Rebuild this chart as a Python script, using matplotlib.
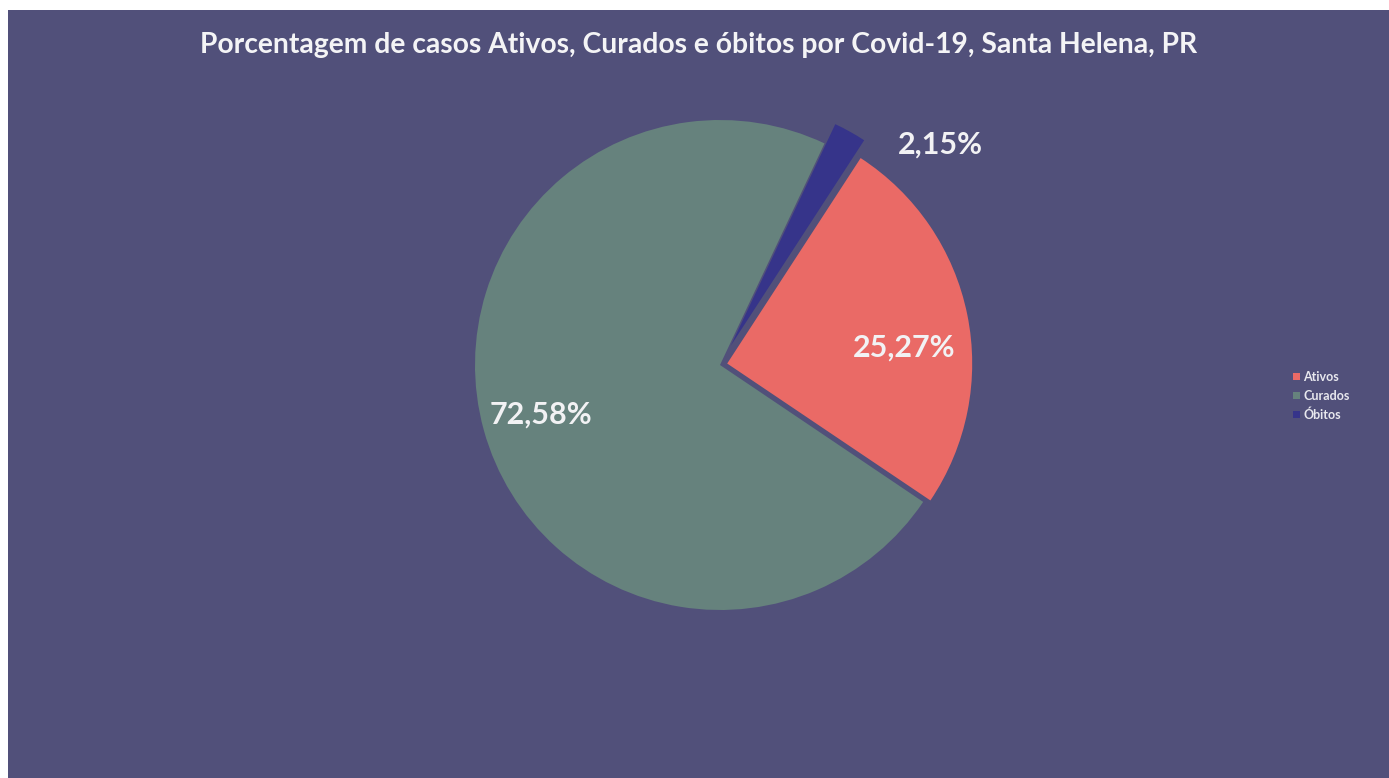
import matplotlib
matplotlib.use("Agg")
import matplotlib.pyplot as plt
from matplotlib.patches import Rectangle

# Data (percentages shown on the chart)
categories = ["Ativos", "Curados", "Óbitos"]
values = [25.27, 72.58, 2.15]
colors = ["#ea6a66", "#66827d", "#36348a"]
title = "Porcentagem de casos Ativos, Curados e óbitos por Covid-19, Santa Helena, PR"

bg = "#51507a"
W, H = 1389, 778

fig = plt.figure(figsize=(W / 100, H / 100), dpi=100, facecolor="white")
# scanned page: thin white margin on top and left
fig.patches.append(Rectangle((8 / W, 0), 1, 1 - 10 / H, transform=fig.transFigure,
                             facecolor=bg, edgecolor="none", zorder=-10))

plt.rcParams["font.family"] = ["Lato", "DejaVu Sans"]

# pie axes centred at about (720, 365) px, radius ~245 px
cx, cy, r = 720, 365, 245
ax = fig.add_axes([(cx - r) / W, (H - cy - r) / H, 2 * r / W, 2 * r / H])
ax.axis("off")

wedges, texts, autotexts = ax.pie(
    values, colors=colors, startangle=57, counterclock=False,
    explode=[0.03, 0, 0.09], radius=1,
    autopct=lambda p: f"{p:.2f}".replace(".", ",") + "%", pctdistance=0.76,
    wedgeprops=dict(edgecolor="none"),
    textprops=dict(color="#f2f2f4", fontsize=22, fontweight="bold"))
ax.set_xlim(-1, 1)
ax.set_ylim(-1, 1)
ax.set_aspect("equal")

# the small slice's label sits outside the pie
autotexts[2].set_position((0.9, 0.9))
autotexts[0].set_position((0.75, 0.07))

fig.text(0.503, 1 - 45 / H, title, ha="center", va="center",
         color="#f4f4f6", fontsize=20.3, fontweight="bold")

leg = fig.legend(wedges, categories, loc="center left",
                 bbox_to_anchor=(1282 / W, 1 - 396 / H), frameon=False,
                 fontsize=9, labelcolor="#e8e8ee", handlelength=0.5,
                 handleheight=0.5, handletextpad=0.3, labelspacing=0.55,
                 prop=dict(weight="bold", size=9))

fig.savefig("out.png", dpi=100, facecolor=fig.get_facecolor())
